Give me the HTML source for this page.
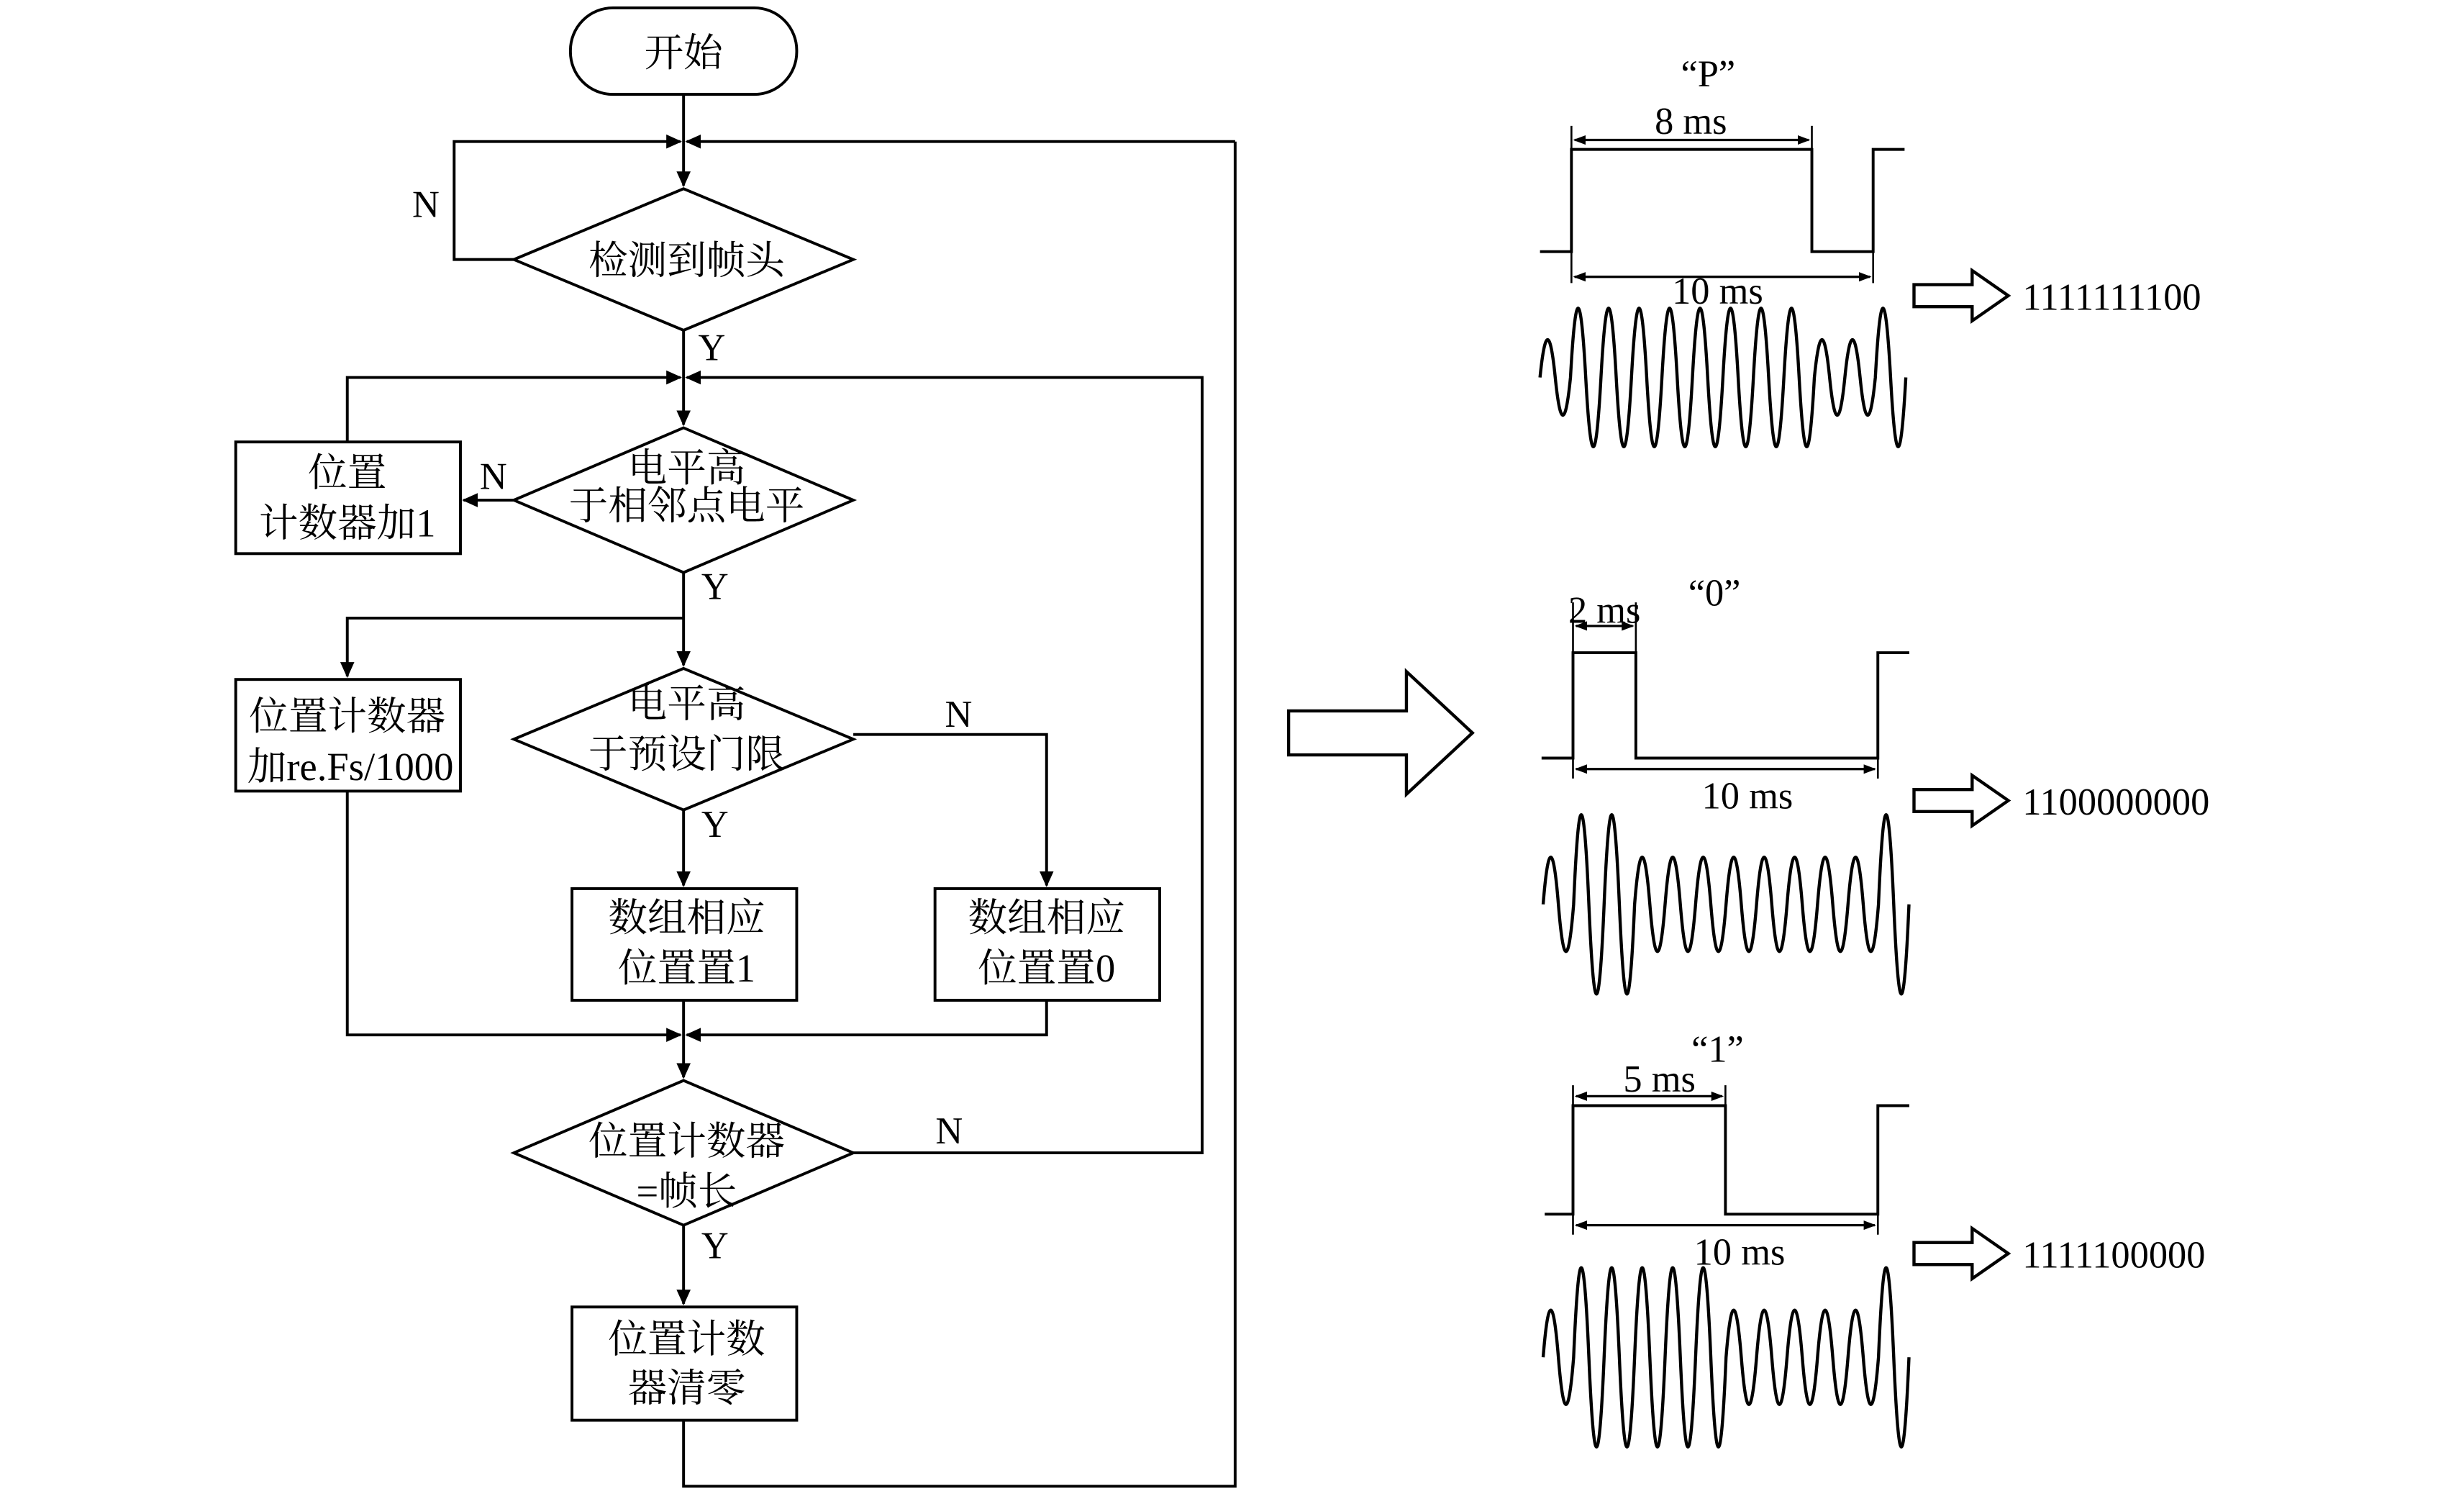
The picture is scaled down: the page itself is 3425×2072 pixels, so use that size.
<!DOCTYPE html>
<html><head><meta charset="utf-8"><style>
html,body{margin:0;padding:0;background:#fff;}
svg{display:block}
text{font-family:"Liberation Serif","Noto Serif CJK SC","Noto Sans CJK SC",serif;fill:#000}
.zh{font-size:25px}
.lt{font-size:24px}
</style></head><body>
<svg width="3425" height="2072" viewBox="0 0 1568 948" preserveAspectRatio="none" xmlns="http://www.w3.org/2000/svg">
<defs>
<marker id="a" markerWidth="10" markerHeight="10" refX="9" refY="5" orient="auto" markerUnits="userSpaceOnUse"><path d="M0,0.5 L10,5 L0,9.5 z" fill="#000"/></marker>
<marker id="d" markerWidth="8" markerHeight="8" refX="7" refY="4" orient="auto-start-reverse" markerUnits="userSpaceOnUse"><path d="M0,1 L8,4 L0,7 z" fill="#000"/></marker>
</defs>
<g fill="none" stroke="#000" stroke-width="1.8">
<rect x="363" y="5" width="144" height="55" rx="27" fill="#fff"/>
<line x1="435" y1="60" x2="435" y2="118" marker-end="url(#a)"/>
<polygon points="435,120 543,165 435,210 327,165"/>
<polyline points="327,165 289,165 289,90 433,90" marker-end="url(#a)"/>
<polyline points="786,90 437,90" marker-end="url(#a)"/>
<line x1="435" y1="210" x2="435" y2="270" marker-end="url(#a)"/>
<polyline points="221,281 221,240 433,240" marker-end="url(#a)"/>
<polyline points="543,733 765,733 765,240 437,240" marker-end="url(#a)"/>
<polygon points="435,272 543,318 435,364 327,318"/>
<line x1="327" y1="318" x2="295" y2="318" marker-end="url(#a)"/>
<rect x="150" y="281" width="143" height="71"/>
<line x1="435" y1="364" x2="435" y2="423" marker-end="url(#a)"/>
<polyline points="435,393 221,393 221,430" marker-end="url(#a)"/>
<rect x="150" y="432" width="143" height="71"/>
<polygon points="435,425 543,470 435,515 327,470"/>
<polyline points="543,467 666,467 666,563" marker-end="url(#a)"/>
<line x1="435" y1="515" x2="435" y2="563" marker-end="url(#a)"/>
<rect x="364" y="565" width="143" height="71"/>
<rect x="595" y="565" width="143" height="71"/>
<line x1="435" y1="636" x2="435" y2="685" marker-end="url(#a)"/>
<polyline points="221,503 221,658 433,658" marker-end="url(#a)"/>
<polyline points="666,636 666,658 437,658" marker-end="url(#a)"/>
<polygon points="435,687 543,733 435,779 327,733"/>
<line x1="435" y1="779" x2="435" y2="829" marker-end="url(#a)"/>
<rect x="364" y="831" width="143" height="72"/>
<polyline points="435,903 435,945 786,945 786,90"/>
<polygon points="820,452 895,452 895,427 937,466 895,505 895,480 820,480" stroke-width="2"/>
<polygon points="1218,181 1255,181 1255,172 1278,188 1255,204 1255,195 1218,195" stroke-width="2"/>
<polygon points="1218,502 1255,502 1255,493 1278,509 1255,525 1255,516 1218,516" stroke-width="2"/>
<polygon points="1218,790 1255,790 1255,781 1278,797 1255,813 1255,804 1218,804" stroke-width="2"/>
<polyline points="980,160 1000,160 1000,95 1153,95 1153,160 1192,160 1192,95 1212,95"/>
<line x1="1000" y1="80" x2="1000" y2="180" stroke-width="1.2"/>
<line x1="1153" y1="80" x2="1153" y2="95" stroke-width="1.2"/>
<line x1="1192" y1="160" x2="1192" y2="180" stroke-width="1.2"/>
<line x1="1002" y1="89" x2="1151" y2="89" stroke-width="1.5" marker-start="url(#d)" marker-end="url(#d)"/>
<line x1="1002" y1="176" x2="1190" y2="176" stroke-width="1.5" marker-start="url(#d)" marker-end="url(#d)"/>
<polyline points="981,482 1001,482 1001,415 1041,415 1041,482 1195,482 1195,415 1215,415"/>
<line x1="1001" y1="383" x2="1001" y2="495" stroke-width="1.2"/>
<line x1="1041" y1="383" x2="1041" y2="415" stroke-width="1.2"/>
<line x1="1195" y1="482" x2="1195" y2="495" stroke-width="1.2"/>
<line x1="1003" y1="398" x2="1039" y2="398" stroke-width="1.5" marker-start="url(#d)" marker-end="url(#d)"/>
<line x1="1003" y1="489" x2="1193" y2="489" stroke-width="1.5" marker-start="url(#d)" marker-end="url(#d)"/>
<polyline points="983,772 1001,772 1001,703 1098,703 1098,772 1195,772 1195,703 1215,703"/>
<line x1="1001" y1="690" x2="1001" y2="785" stroke-width="1.2"/>
<line x1="1098" y1="690" x2="1098" y2="703" stroke-width="1.2"/>
<line x1="1195" y1="772" x2="1195" y2="785" stroke-width="1.2"/>
<line x1="1003" y1="697" x2="1096" y2="697" stroke-width="1.5" marker-start="url(#d)" marker-end="url(#d)"/>
<line x1="1003" y1="779" x2="1193" y2="779" stroke-width="1.5" marker-start="url(#d)" marker-end="url(#d)"/>
<!-- wave P: s B B B B B B B B s s B -->
<path stroke-width="2" d="M980,240
c3.23,-32 6.47,-32 9.7,0 c3.23,32 6.47,32 9.7,0
c3.23,-58.7 6.47,-58.7 9.7,0 c3.23,58.7 6.47,58.7 9.7,0
c3.23,-58.7 6.47,-58.7 9.7,0 c3.23,58.7 6.47,58.7 9.7,0
c3.23,-58.7 6.47,-58.7 9.7,0 c3.23,58.7 6.47,58.7 9.7,0
c3.23,-58.7 6.47,-58.7 9.7,0 c3.23,58.7 6.47,58.7 9.7,0
c3.23,-58.7 6.47,-58.7 9.7,0 c3.23,58.7 6.47,58.7 9.7,0
c3.23,-58.7 6.47,-58.7 9.7,0 c3.23,58.7 6.47,58.7 9.7,0
c3.23,-58.7 6.47,-58.7 9.7,0 c3.23,58.7 6.47,58.7 9.7,0
c3.23,-58.7 6.47,-58.7 9.7,0 c3.23,58.7 6.47,58.7 9.7,0
c3.23,-32 6.47,-32 9.7,0 c3.23,32 6.47,32 9.7,0
c3.23,-32 6.47,-32 9.7,0 c3.23,32 6.47,32 9.7,0
c3.23,-58.7 6.47,-58.7 9.7,0 c3.23,58.7 6.47,58.7 9.7,0"/>
<!-- wave 0: s B B s s s s s s s s B -->
<path stroke-width="2" d="M982,575
c3.23,-40 6.47,-40 9.7,0 c3.23,40 6.47,40 9.7,0
c3.23,-76 6.47,-76 9.7,0 c3.23,76 6.47,76 9.7,0
c3.23,-76 6.47,-76 9.7,0 c3.23,76 6.47,76 9.7,0
c3.23,-40 6.47,-40 9.7,0 c3.23,40 6.47,40 9.7,0
c3.23,-40 6.47,-40 9.7,0 c3.23,40 6.47,40 9.7,0
c3.23,-40 6.47,-40 9.7,0 c3.23,40 6.47,40 9.7,0
c3.23,-40 6.47,-40 9.7,0 c3.23,40 6.47,40 9.7,0
c3.23,-40 6.47,-40 9.7,0 c3.23,40 6.47,40 9.7,0
c3.23,-40 6.47,-40 9.7,0 c3.23,40 6.47,40 9.7,0
c3.23,-40 6.47,-40 9.7,0 c3.23,40 6.47,40 9.7,0
c3.23,-40 6.47,-40 9.7,0 c3.23,40 6.47,40 9.7,0
c3.23,-76 6.47,-76 9.7,0 c3.23,76 6.47,76 9.7,0"/>
<!-- wave 1: s B B B B B s s s s s B -->
<path stroke-width="2" d="M982,863
c3.23,-40 6.47,-40 9.7,0 c3.23,40 6.47,40 9.7,0
c3.23,-76 6.47,-76 9.7,0 c3.23,76 6.47,76 9.7,0
c3.23,-76 6.47,-76 9.7,0 c3.23,76 6.47,76 9.7,0
c3.23,-76 6.47,-76 9.7,0 c3.23,76 6.47,76 9.7,0
c3.23,-76 6.47,-76 9.7,0 c3.23,76 6.47,76 9.7,0
c3.23,-76 6.47,-76 9.7,0 c3.23,76 6.47,76 9.7,0
c3.23,-40 6.47,-40 9.7,0 c3.23,40 6.47,40 9.7,0
c3.23,-40 6.47,-40 9.7,0 c3.23,40 6.47,40 9.7,0
c3.23,-40 6.47,-40 9.7,0 c3.23,40 6.47,40 9.7,0
c3.23,-40 6.47,-40 9.7,0 c3.23,40 6.47,40 9.7,0
c3.23,-40 6.47,-40 9.7,0 c3.23,40 6.47,40 9.7,0
c3.23,-76 6.47,-76 9.7,0 c3.23,76 6.47,76 9.7,0"/>
</g>
<g class="zh" text-anchor="middle">
<text x="435" y="42">开始</text>
<text x="437" y="174">检测到帧头</text>
<text x="437" y="306">电平高</text>
<text x="437" y="330">于相邻点电平</text>
<text x="221" y="309">位置</text>
<text x="221" y="341">计数器加1</text>
<text x="221" y="464">位置计数器</text>
<text x="223" y="496">加re.Fs/1000</text>
<text x="437" y="456">电平高</text>
<text x="437" y="488">于预设门限</text>
<text x="437" y="592">数组相应</text>
<text x="437" y="624">位置置1</text>
<text x="666" y="592">数组相应</text>
<text x="666" y="624">位置置0</text>
<text x="437" y="734">位置计数器</text>
<text x="437" y="766">=帧长</text>
<text x="437" y="860">位置计数</text>
<text x="437" y="891">器清零</text>
</g>
<g class="lt" text-anchor="middle">
<text x="271" y="138">N</text>
<text x="453" y="229">Y</text>
<text x="314" y="311">N</text>
<text x="455" y="381">Y</text>
<text x="610" y="462">N</text>
<text x="455" y="532">Y</text>
<text x="604" y="727">N</text>
<text x="455" y="800">Y</text>
<text x="1087" y="55">“P”</text>
<text x="1076" y="85">8 ms</text>
<text x="1093" y="193">10 ms</text>
<text x="1021" y="396">2 ms</text>
<text x="1091" y="385">“0”</text>
<text x="1112" y="514">10 ms</text>
<text x="1056" y="694">5 ms</text>
<text x="1093" y="675">“1”</text>
<text x="1107" y="804">10 ms</text>
</g>
<g class="lt">
<text x="1287" y="197">1111111100</text>
<text x="1287" y="518">1100000000</text>
<text x="1287" y="806">1111100000</text>
</g>
</svg>
</body></html>
